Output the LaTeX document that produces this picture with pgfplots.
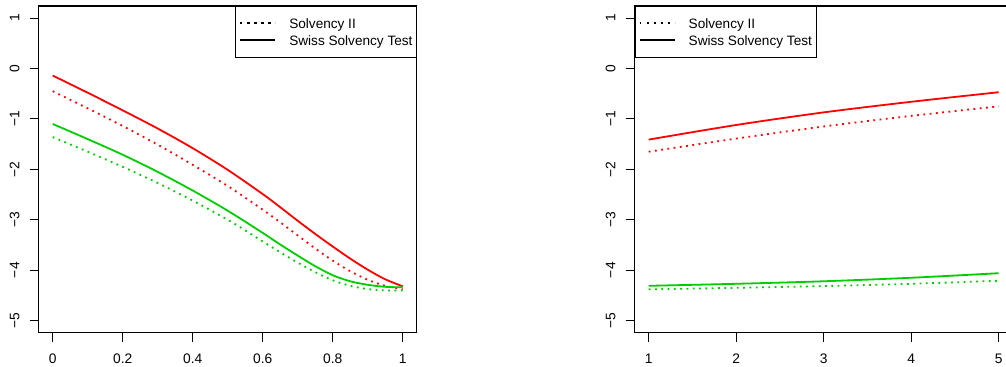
\documentclass[border=0pt]{standalone}
\usepackage{fontspec}
\setmainfont{Liberation Sans}
\usepackage{pgfplots}
\pgfplotsset{compat=1.18}
\definecolor{rred}{RGB}{255,0,0}
\definecolor{rgreen}{RGB}{0,205,0}
\pgfplotsset{
  rbase/.style={
    scale only axis, width=378bp, height=326.7bp,
    ymin=-5.24, ymax=1.24,
    axis line style={line width=1.5bp},
    tick align=outside, major tick length=9bp,
    xtick pos=bottom, ytick pos=left,
    every tick/.style={black, line width=1bp},
    ytick={-5,-4,-3,-2,-1,0,1},
    yticklabels={−5,−4,−3,−2,−1,0,1},
    ticklabel style={font=\fontsize{13.8bp}{16bp}\selectfont, inner sep=0pt},
    yticklabel style={rotate=90, anchor=base},
    xticklabel style={anchor=north},
    yticklabel shift=10.4bp,
    xticklabel shift=11.7bp,
    legend style={draw=black, fill=white,
      inner xsep=4bp, inner ysep=8.2bp,
      font=\fontsize{13.6bp}{16bp}\selectfont,
      cells={anchor=west},
      nodes={inner sep=0pt, text height=14bp, text depth=3bp},
      row sep=0.3bp, column sep=13bp},
    legend cell align=left,
    legend image code/.code={\path (0bp,0bp) -- (35bp,0bp); \draw[##1] (8bp,0bp) -- (35bp,0bp);},
  },
  solidl/.style={line width=1.8bp, smooth},
  dotl/.style={line width=1.8bp, dash pattern=on 1.8bp off 4.5bp, smooth},
}
\begin{document}
\begin{tikzpicture}
\begin{axis}[rbase, at={(38.7bp,34.3bp)}, anchor=south west,
  xmin=-0.04, xmax=1.04,
  xtick={0,0.2,0.4,0.6,0.8,1}, xticklabels={0,0.2,0.4,0.6,0.8,1},
  legend style={at={(1,1)}, anchor=north east}]
\addlegendimage{black, line width=1.5bp, dash pattern=on 1.5bp off 5.5bp}
\addlegendentry{Solvency II}
\addlegendimage{black, line width=1.8bp, solid}
\addlegendentry{Swiss Solvency Test}
\addplot[rred, solidl, forget plot] coordinates {
 (0,-0.14) (0.1,-0.48) (0.2,-0.83) (0.3,-1.19) (0.4,-1.58) (0.5,-2.01) (0.6,-2.49)
 (0.65,-2.75) (0.7,-3.02) (0.75,-3.28) (0.8,-3.53) (0.85,-3.77) (0.9,-3.99) (0.95,-4.18) (1,-4.32)};
\addplot[rred, dotl, forget plot] coordinates {
 (0,-0.45) (0.1,-0.79) (0.2,-1.14) (0.3,-1.51) (0.4,-1.91) (0.5,-2.33) (0.6,-2.80)
 (0.65,-3.05) (0.7,-3.31) (0.75,-3.57) (0.8,-3.81) (0.85,-4.02) (0.9,-4.19) (0.95,-4.31) (1,-4.38)};
\addplot[rgreen, solidl, forget plot] coordinates {
 (0,-1.10) (0.1,-1.40) (0.2,-1.71) (0.3,-2.05) (0.4,-2.42) (0.5,-2.82) (0.6,-3.26)
 (0.65,-3.49) (0.7,-3.71) (0.75,-3.92) (0.8,-4.10) (0.85,-4.22) (0.9,-4.29) (0.95,-4.33) (1,-4.34)};
\addplot[rgreen, dotl, forget plot] coordinates {
 (0,-1.36) (0.1,-1.65) (0.2,-1.95) (0.3,-2.27) (0.4,-2.62) (0.5,-3.00) (0.55,-3.21) (0.6,-3.43)
 (0.65,-3.645) (0.7,-3.85) (0.75,-4.04) (0.8,-4.20) (0.85,-4.31) (0.9,-4.375) (0.95,-4.40) (1,-4.40)};
\end{axis}
\begin{axis}[rbase, at={(634.7bp,34.3bp)}, anchor=south west,
  xmin=0.84, xmax=5.16,
  xtick={1,2,3,4,5}, xticklabels={1,2,3,4,5},
  legend style={at={(0,1)}, anchor=north west}]
\addlegendimage{black, line width=1.5bp, dash pattern=on 1.5bp off 5.5bp}
\addlegendentry{Solvency II}
\addlegendimage{black, line width=1.8bp, solid}
\addlegendentry{Swiss Solvency Test}
\addplot[rred, solidl, forget plot] coordinates {
 (1,-1.41) (2,-1.12) (3,-0.87) (4,-0.66) (5,-0.47)};
\addplot[rred, dotl, forget plot] coordinates {
 (1,-1.65) (2,-1.39) (3,-1.15) (4,-0.94) (5,-0.75)};
\addplot[rgreen, solidl, forget plot] coordinates {
 (1,-4.31) (2,-4.27) (3,-4.22) (4,-4.15) (5,-4.06)};
\addplot[rgreen, dotl, forget plot] coordinates {
 (1,-4.38) (2,-4.35) (3,-4.315) (4,-4.27) (5,-4.21)};
\end{axis}
\pgfresetboundingbox
\path[use as bounding box] (0,0) rectangle (1006bp,367bp);
\end{tikzpicture}
\end{document}
